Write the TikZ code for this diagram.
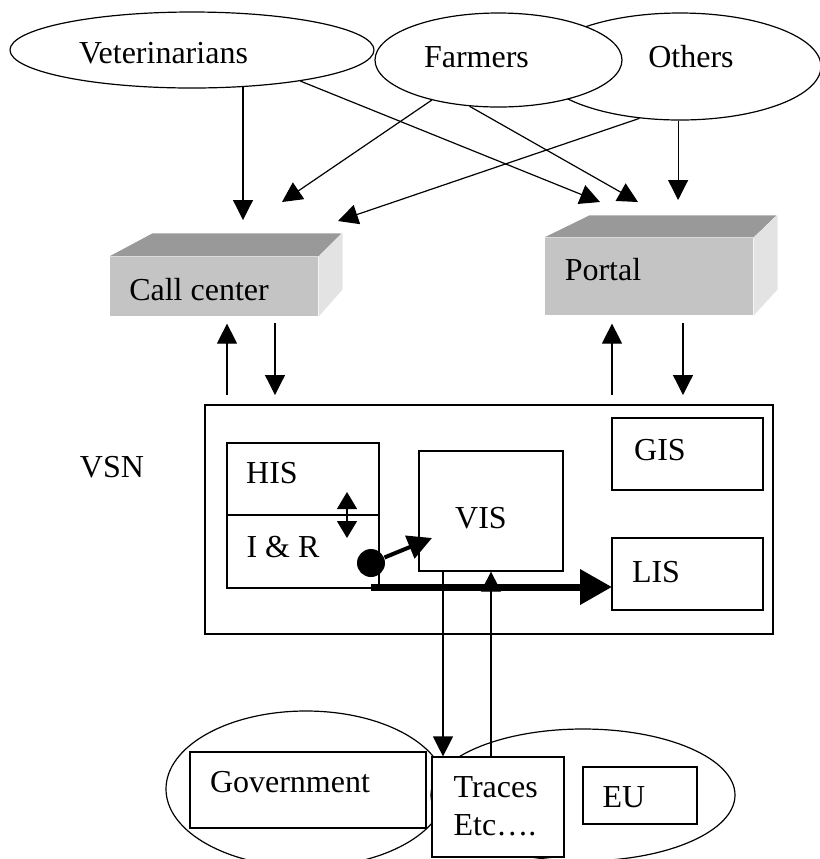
\documentclass[tikz,border=0pt]{standalone}
\usepackage{fontspec}
\setmainfont{Liberation Serif}
\usepackage{tikz}
\usetikzlibrary{arrows.meta, shapes.geometric, positioning}
\definecolor{BoxFront}{RGB}{196,196,196}
\definecolor{BoxTop}{RGB}{153,153,153}
\definecolor{BoxSide}{RGB}{227,227,227}
\tikzset{
  actor/.style={draw, ellipse, fill=white, inner sep=0pt},
  box/.style={draw, fill=white, inner sep=0pt},
  front/.style={fill=BoxFront, inner sep=0pt},
  arr/.style={-{Triangle[length=10pt,width=10pt]}},
  twoway/.style={{Triangle[length=8.5pt,width=10pt]}-{Triangle[length=8.5pt,width=10pt]}},
  fatarr/.style={line width=3.5pt, -{Triangle[length=16pt,width=17pt]}},
  dotarr/.style={line width=2pt, -{Triangle[length=12pt,width=12pt]}}
}
\begin{document}
\begin{tikzpicture}[x=0.5pt, y=-0.5pt, line width=0.6pt, font=\fontsize{16}{19}\selectfont]
  \useasboundingbox (0,0) rectangle (820,859);
  % user groups
  \node[actor, minimum width=141pt, minimum height=53.5pt] (oth) at (680,66.5) {};
  \node[actor, minimum width=123.5pt, minimum height=47pt] (farm) at (498.5,60) {};
  \node[actor, minimum width=182pt, minimum height=38pt] (vet) at (192,50) {};
  \node (vettxt) at (163.5,53) {Veterinarians};
  \node (farmtxt) at (476.5,57) {Farmers};
  \node (othtxt) at (691,57) {Others};

  % call center and portal
  \node[front, minimum width=104pt, minimum height=29.5pt] (cc) at (214,286.5) {};
  \fill[BoxTop] (cc.north west) -- ++(43,-23) -- ++(189,0) -- (cc.north east) -- cycle;
  \fill[BoxSide] (cc.north east) -- ++(24,-23) -- ++(0,56) -- (cc.south east) -- cycle;
  \node (cctxt) at (199,290) {Call center};
  \node[front, minimum width=104pt, minimum height=38.5pt] (pt) at (649,276.5) {};
  \fill[BoxTop] (pt.north west) -- ++(45,-22) -- ++(187,0) -- (pt.north east) -- cycle;
  \fill[BoxSide] (pt.north east) -- ++(24,-22) -- ++(0,74) -- (pt.south east) -- cycle;
  \node (pttxt) at (603,270) {Portal};

  \coordinate (ccA) at (243,220);
  \coordinate (ccB) at (282,202);
  \coordinate (ccC) at (338,221);
  \coordinate (ptA) at (600,202);
  \coordinate (ptB) at (638,202);
  \coordinate (ptC) at (678,200);
  \draw[arr] (vet.-36) -- (vet.-36 |- ccA);
  \draw[arr] (oth.-92) -- (oth.-92 |- ptC);
  \foreach \a/\b in {vet.-16/ptA, farm.-149/ccB, farm.-122/ptB, oth.-128/ccC}
    \draw[arr] (\a) -- (\b);

  % VSN
  \node[box, minimum width=284pt, minimum height=114.5pt] (vsn) at (489,519.5) {};
  \node (vsntxt) at (112,467) {VSN};
  \coordinate (ccup) at (227,395);
  \coordinate (ccdn) at (275,395);
  \coordinate (ptup) at (612,395);
  \coordinate (ptdn) at (683,395);
  \draw[arr, shorten >=3.5pt] (ccup) -- (ccup |- cc.south);
  \draw[arr, shorten <=3pt] (ccdn |- cc.south) -- (ccdn);
  \draw[arr, shorten >=4pt] (ptup) -- (ptup |- pt.south);
  \draw[arr, shorten <=3.5pt] (ptdn |- pt.south) -- (ptdn);

  \node[box, minimum width=76pt, minimum height=36pt] (his) at (303,479) {};
  \node[box, minimum width=76pt, minimum height=36.5pt] (ir) at (303,551.5) {};
  \node (histxt) at (272,473) {HIS};
  \node (irtxt) at (283,547) {I \& R};
  \node[box, minimum width=72pt, minimum height=60pt] (vis) at (491,511) {};
  \node (vistxt) at (481,518) {VIS};
  \node[box, minimum width=75.5pt, minimum height=36pt] (gis) at (687.5,454) {};
  \node (gistxt) at (660,450) {GIS};
  \node[box, minimum width=75.5pt, minimum height=36pt] (lis) at (687.5,574) {};
  \node (listxt) at (656,572) {LIS};
  \node[circle, fill, inner sep=0pt, minimum size=14pt] (dot) at (371,563) {};

  \coordinate (hisx) at (347,492);
  \coordinate (irx) at (347,538);
  \coordinate (visin) at (432,538);
  \coordinate (lisin) at (612,587);
  \draw[twoway] (hisx) -- (irx);
  \draw[dotarr] (dot) -- (visin);
  \draw[fatarr] (dot.center |- lisin) -- (lisin);

  % outside parties
  \node[actor, minimum width=140pt, minimum height=78pt] (govring) at (306,789) {};
  \node[actor, minimum width=152pt, minimum height=66pt] (euring) at (583,795) {};
  \node[box, minimum width=118pt, minimum height=38pt] (gov) at (308,790) {};
  \node (govtxt) at (290,782) {Government};
  \node[box, minimum width=66pt, minimum height=50pt] (trc) at (498,807) {};
  \node[align=left, anchor=west, inner sep=0pt] (trctxt) at (453,806) {Traces\\Etc….};
  \node[box, minimum width=57pt, minimum height=28.5pt] (eu) at (640,795.5) {};
  \node (eutxt) at (624,797) {EU};

  \coordinate (visout) at (443,571);
  \draw[arr] (visout) -- (visout |- trc.north);
  \draw[arr] (vis.south |- trc.north) -- (vis.south);
\end{tikzpicture}
\end{document}
